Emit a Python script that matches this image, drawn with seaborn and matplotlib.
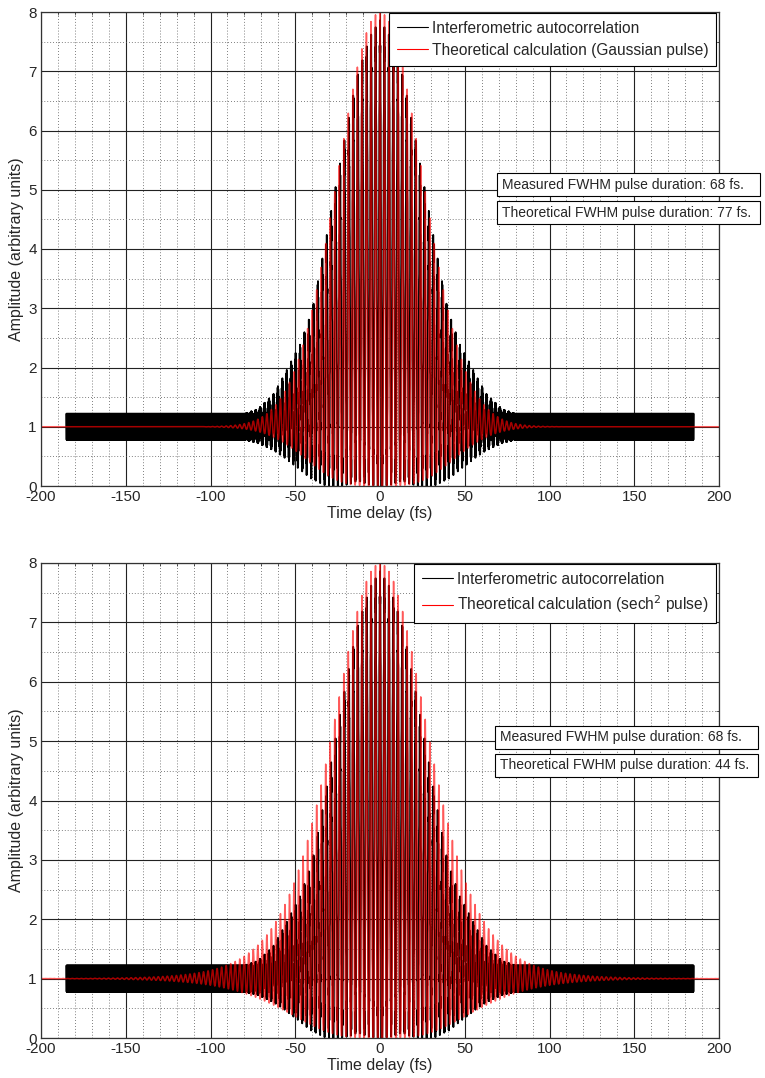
import numpy as np
import pandas as pd
import matplotlib
matplotlib.use("Agg")
import matplotlib.pyplot as plt
from matplotlib.ticker import MultipleLocator
import seaborn as sns

# ---- measured interferometric autocorrelation (envelope per delay, symmetric) ----
meas_delay = [0, 6, 13.5, 20, 26.5, 33, 40, 47, 57, 63, 72, 80, 185]
meas_upper = [7.86, 7.6, 7.0, 6.0, 5.0, 4.0, 3.0, 2.4, 1.85, 1.55, 1.3, 1.22, 1.22]
meas_lower = [0.0, 0.0, 0.0, 0.0, 0.0, 0.0, 0.08, 0.27, 0.49, 0.6, 0.72, 0.78, 0.78]
meas_span = 185.0          # fs, scan range of the measurement
noise_band = 0.22          # half-width of the detector noise floor
meas_period = 2.62         # fs, fringe period of the measured trace

# ---- theoretical pulses ----
carrier_period = 2.67      # fs (800 nm)
gauss_fwhm = 77            # fs, theoretical Gaussian pulse duration
sech_fwhm = 44             # fs, theoretical sech^2 pulse duration
measured_fwhm = 68         # fs

x_ticks = [-200, -150, -100, -50, 0, 50, 100, 150, 200]
y_ticks = [0, 1, 2, 3, 4, 5, 6, 7, 8]

sns.set_style("white")
plt.rcParams["font.family"] = ["Liberation Sans", "DejaVu Sans"]
plt.rcParams["axes.unicode_minus"] = False


def measured_trace():
    tau = np.arange(-meas_span, meas_span + 1e-9, 0.1)
    up = np.interp(np.abs(tau), meas_delay, meas_upper)
    lo = np.interp(np.abs(tau), meas_delay, meas_lower)
    mid = (up + lo) / 2
    amp = np.clip((up - lo) / 2 - noise_band, 0, None)
    jitter = noise_band * np.where(np.arange(tau.size) % 2 == 0, 1.0, -1.0)
    y = mid + amp * np.cos(2 * np.pi * tau / meas_period) + jitter
    return pd.DataFrame({"delay": tau, "amp": y})


def theory_trace(field):
    dt = 0.05
    t = np.arange(-300, 300 + 1e-9, dt)
    a = field(t)
    norm = np.sum(a ** 4)
    g2 = np.convolve(a ** 2, a ** 2, mode="same") / norm
    f1 = np.convolve(a ** 3, a, mode="same") / norm
    w = 2 * np.pi / carrier_period
    iac = 1 + 2 * g2 + 4 * f1 * np.cos(w * t) + g2 * np.cos(2 * w * t)
    keep = np.abs(t) <= 200
    return pd.DataFrame({"delay": t[keep], "amp": iac[keep]})


# the pulse width parameter enters the field as a half-width
tp_g = gauss_fwhm / 2
gauss = theory_trace(lambda t: np.exp(-2 * np.log(2) * (t / tp_g) ** 2))
t0_s = sech_fwhm / 2
sech = theory_trace(lambda t: 1 / np.cosh(t / t0_s))
meas = measured_trace()

W, H = 765, 1078
fig = plt.figure(figsize=(W / 100, H / 100), dpi=100)
ax_top = fig.add_axes([41 / W, 1 - 486 / H, 678 / W, 474 / H])
ax_bot = fig.add_axes([41 / W, 1 - 1038 / H, 678 / W, 475 / H])

panels = [
    (ax_top, gauss, "Theoretical calculation (Gaussian pulse)", gauss_fwhm, 172, 502),
    (ax_bot, sech, r"Theoretical calculation (sech$^2$ pulse)", sech_fwhm, 725, 500),
]

for ax, theo, theo_label, theo_fwhm, box_top, box_left in panels:
    sns.lineplot(data=meas, x="delay", y="amp", ax=ax, color="black", lw=1.3,
                 estimator=None, sort=False, label="Interferometric autocorrelation")
    sns.lineplot(data=theo, x="delay", y="amp", ax=ax, color="#ff0000", lw=1.1,
                 alpha=0.65, estimator=None, sort=False, label=theo_label)
    ax.set_xlim(-200, 200)
    ax.set_ylim(0, 8)
    ax.set_xticks(x_ticks)
    ax.set_yticks(y_ticks)
    ax.xaxis.set_minor_locator(MultipleLocator(10))
    ax.yaxis.set_minor_locator(MultipleLocator(0.5))
    ax.set_axisbelow(True)
    ax.grid(which="major", color="#222222", lw=0.8)
    ax.grid(which="minor", color="#555555", lw=0.6, ls=(0, (1, 2.5)))
    ax.tick_params(which="both", direction="in", top=True, right=True,
                   labelsize=11, pad=3)
    ax.tick_params(which="major", length=5, width=0.6)
    ax.tick_params(which="minor", length=2.5, width=0.5)
    for s in ax.spines.values():
        s.set_color("#333333")
        s.set_linewidth(0.9)
    ax.set_xlabel("Time delay (fs)", fontsize=11.5, labelpad=1)
    ax.set_ylabel("Amplitude (arbitrary units)", fontsize=11.5, labelpad=3)

    leg = ax.legend(loc="upper right", bbox_to_anchor=(0.996, 0.998),
                    borderaxespad=0, fontsize=11.2, fancybox=False,
                    handlelength=2.0, handletextpad=0.25, borderpad=0.5,
                    labelspacing=0.45, framealpha=1)
    leg.get_frame().set_edgecolor("black")
    leg.get_frame().set_linewidth(0.8)
    for ln in leg.get_lines():
        ln.set_linewidth(0.8)
        ln.set_alpha(1)

    box = dict(boxstyle="square,pad=0.35", fc="white", ec="black", lw=0.8)
    fig.text(box_left / W, 1 - (box_top + 12.5) / H,
             f"Measured FWHM pulse duration: {measured_fwhm} fs.   ",
             fontsize=10, va="center", ha="left", bbox=box)
    fig.text(box_left / W, 1 - (box_top + 40.5) / H,
             f"Theoretical FWHM pulse duration: {theo_fwhm} fs. ",
             fontsize=10, va="center", ha="left", bbox=box)

fig.savefig("out.png", dpi=100, facecolor="white")
